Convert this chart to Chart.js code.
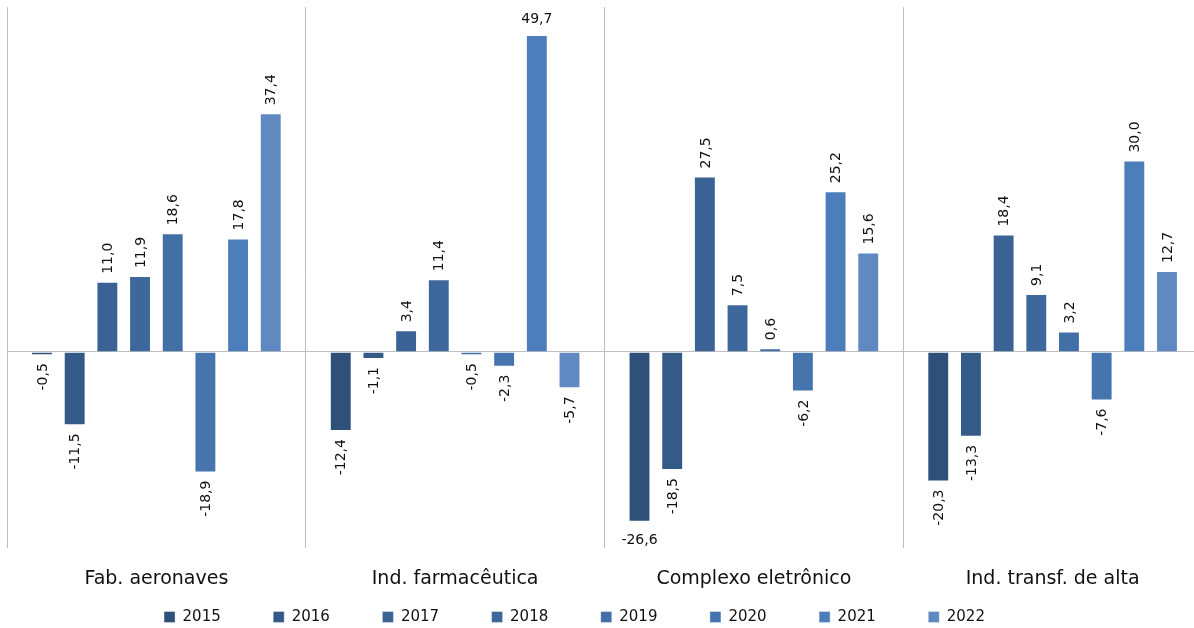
<!DOCTYPE html>
<html>
<head>
<meta charset="utf-8">
<script src="https://cdn.jsdelivr.net/npm/chart.js@4/dist/chart.umd.min.js"></script>
<style>
html,body{margin:0;padding:0;background:#fff;overflow:hidden;}
#wrap{width:1210px;height:628px;}
</style>
</head>
<body>
<div id="wrap"><canvas id="c" width="1210" height="628"></canvas></div>
<script>
const categories = ['Fab. aeronaves', 'Ind. farmacêutica', 'Complexo eletrônico', 'Ind. transf. de alta'];
const years = ['2015', '2016', '2017', '2018', '2019', '2020', '2021', '2022'];
const v2015 = [-0.5, -12.4, -26.6, -20.3];
const v2016 = [-11.5, -1.1, -18.5, -13.3];
const v2017 = [11.0, 3.4, 27.5, 18.4];
const v2018 = [11.9, 11.4, 7.5, 9.1];
const v2019 = [18.6, -0.5, 0.6, 3.2];
const v2020 = [-18.9, -2.3, -6.2, -7.6];
const v2021 = [17.8, 49.7, 25.2, 30.0];
const v2022 = [37.4, -5.7, 15.6, 12.7];
const seriesValues = [v2015, v2016, v2017, v2018, v2019, v2020, v2021, v2022];
const colors = ['#2f5078', '#345a87', '#3a6294', '#3e689c', '#426fa5', '#4675ae', '#4b7eba', '#5f89c0'];

const fmt = v => v.toFixed(1).replace('.', ',');

const labelPlugin = {
  id: 'barLabels',
  afterDatasetsDraw(chart) {
    const ctx = chart.ctx;
    const area = chart.chartArea;
    const gap = 8;
    ctx.save();
    ctx.font = '14px "DejaVu Sans"';
    ctx.fillStyle = '#111';
    chart.data.datasets.forEach((ds, i) => {
      const meta = chart.getDatasetMeta(i);
      meta.data.forEach((bar, j) => {
        const v = ds.data[j];
        const txt = fmt(v);
        const w = ctx.measureText(txt).width;
        const p = bar.getProps(['x', 'y', 'base'], true);
        if (v >= 0) {
          const start = p.y - gap;
          if (start - w < area.top) {
            ctx.textAlign = 'center';
            ctx.textBaseline = 'bottom';
            ctx.fillText(txt, p.x, p.y - 9);
          } else {
            ctx.save();
            ctx.translate(p.x, start);
            ctx.rotate(-Math.PI / 2);
            ctx.textAlign = 'left';
            ctx.textBaseline = 'middle';
            ctx.fillText(txt, 0, 1);
            ctx.restore();
          }
        } else {
          const start = p.y + gap;
          if (start + w > area.bottom) {
            ctx.textAlign = 'center';
            ctx.textBaseline = 'top';
            ctx.fillText(txt, p.x, p.y + 12);
          } else {
            ctx.save();
            ctx.translate(p.x, start);
            ctx.rotate(-Math.PI / 2);
            ctx.textAlign = 'right';
            ctx.textBaseline = 'middle';
            ctx.fillText(txt, 0, 1);
            ctx.restore();
          }
        }
      });
    });
    ctx.restore();
  }
};

const legendShift = {
  id: 'legendShift',
  beforeLayout(chart) {
    const l = chart.legend;
    if (!l || l._patched) return;
    const origFit = l.fit;
    l.fit = function () {
      origFit.call(this);
      this.height = 37;
    };
    l._patched = true;
  },
  afterLayout(chart) {
    const l = chart.legend;
    if (!l) return;
    l.left -= 30;
    l.right -= 30;
    const pad = l.options.labels.padding;
    l.top = 617 - 7.5 - pad;
    l.bottom = chart.height;
    l.height = l.bottom - l.top;
  }
};

new Chart(document.getElementById('c'), {
  type: 'bar',
  data: {
    labels: categories,
    datasets: years.map((y, i) => ({
      label: y,
      data: seriesValues[i],
      backgroundColor: colors[i],
      borderColor: 'rgba(255,255,255,0.35)',
      borderWidth: 1,
      categoryPercentage: 0.875,
      barPercentage: 0.67
    }))
  },
  options: {
    responsive: false,
    animation: false,
    devicePixelRatio: 1,
    layout: { padding: { left: 7, right: 8, top: 7, bottom: 0 } },
    plugins: {
      tooltip: { enabled: false },
      legend: {
        position: 'bottom',
        labels: {
          font: { family: 'DejaVu Sans', size: 15 },
          color: '#111',
          boxWidth: 11,
          boxHeight: 11,
          padding: 52.5
        }
      }
    },
    scales: {
      x: {
        grid: { color: '#bfbfbf', lineWidth: 1, drawTicks: false, offset: true },
        border: { display: false },
        ticks: { font: { family: 'DejaVu Sans', size: 19 }, color: '#111', padding: 20, autoSkip: false, maxRotation: 0 },
        afterFit(scale) { scale.height = 43; }
      },
      y: {
        min: -30.72,
        max: 54.07,
        grid: { color: '#bfbfbf', lineWidth: 1, drawTicks: false },
        border: { display: false },
        ticks: { display: false },
        afterBuildTicks(scale) { scale.ticks = [{ value: 0 }]; },
        afterFit(scale) { scale.width = 0; }
      }
    }
  },
  plugins: [labelPlugin, legendShift]
});
</script>
</body>
</html>
